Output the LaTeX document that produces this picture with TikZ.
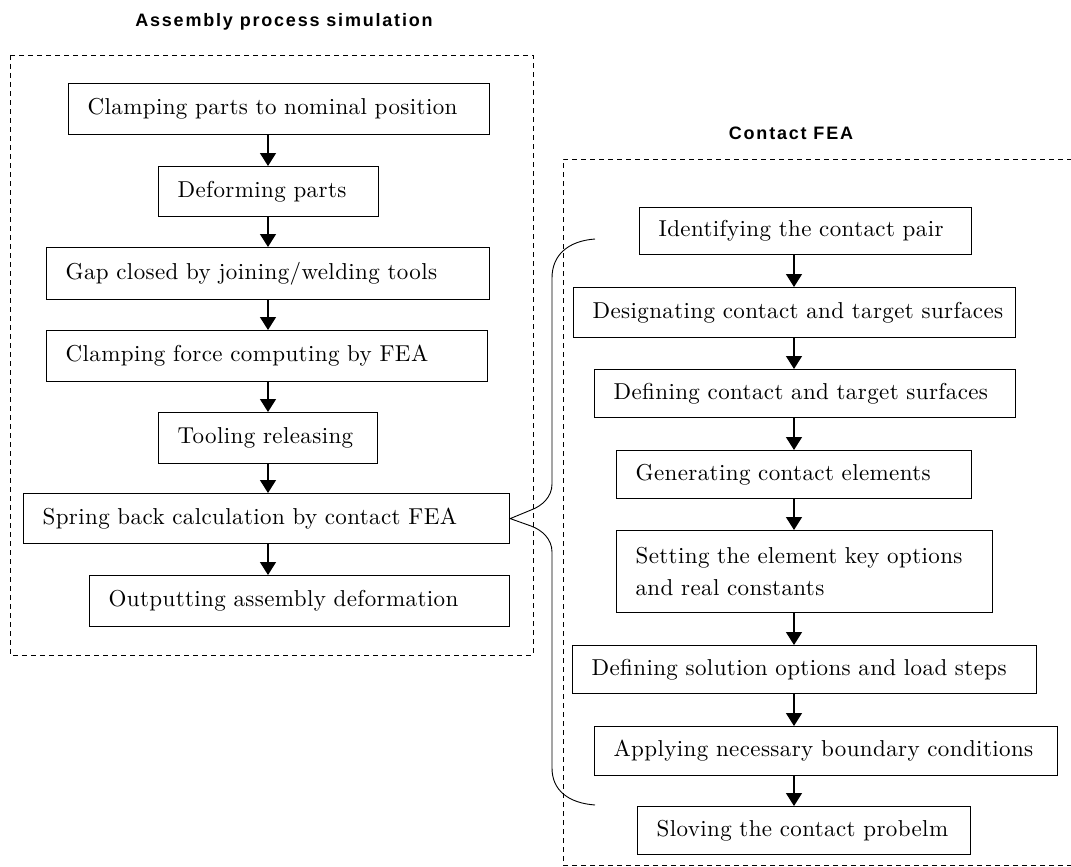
\documentclass[tikz,border=0pt]{standalone}
\usepackage{fontspec}
\newfontfamily\titlefont[LetterSpace=10]{Liberation Sans}
\newfontfamily\boxfont{lmroman10-regular}[Extension=.otf,LetterSpace=1.7]
\usetikzlibrary{arrows.meta}

\begin{document}
\begin{tikzpicture}[x=1pt,y=-1pt,
  blk/.style={draw,line width=1.2pt,anchor=north west,align=left,inner xsep=19pt,inner ysep=0pt,
    font=\boxfont\fontsize{23}{32}\selectfont},
  proc/.style={blk,execute at begin node=\hbox\bgroup,execute at end node=\egroup},
  flow/.style={line width=1.4pt,-{Triangle[width=16pt,length=13pt]}},
  group/.style={dash pattern=on 5pt off 4pt,line width=0.9pt},
  heading/.style={font=\titlefont\bfseries\fontsize{18}{21}\selectfont}]
\useasboundingbox (0,0) rectangle (1071,867);

% the two dashed groups and their headings
\draw[group] (10,55) rectangle (533,655);
\draw[group] (1090,865) -- (563,865) -- (563,159) -- (1090,159);
\node[heading] (asmtitle) at (284,22) {Assembly process simulation};
\node[heading] (featitle) at (791,133) {Contact FEA};

% assembly steps
\node[proc,text width=383pt,minimum height=51pt] (clamp) at (68,83) {Clamping parts to nominal position};
\node[proc,text width=182pt,minimum height=50pt] (deform) at (158,166) {Deforming parts};
\node[proc,text width=405pt,minimum height=52pt] (gap) at (46,247) {Gap closed by joining/welding tools};
\node[proc,text width=403pt,minimum height=51pt] (force) at (46,330) {Clamping force computing by FEA};
\node[proc,text width=181pt,minimum height=51pt] (release) at (158,412) {Tooling releasing};
\node[proc,text width=448pt,minimum height=50pt] (spring) at (23,493) {Spring back calculation by contact FEA};
\node[proc,text width=382pt,minimum height=51pt] (output) at (89,575) {Outputting assembly deformation};
\foreach \a/\b in {clamp/deform,deform/gap,gap/force,force/release,release/spring,spring/output}
  \draw[flow] (268,0 |- \a.south) -- (268,0 |- \b.north);

% contact analysis steps
\node[proc,text width=294pt,minimum height=47pt] (pair) at (639,207) {Identifying the contact pair};
\node[proc,text width=404pt,minimum height=50pt] (desig) at (573,287) {Designating contact and target surfaces};
\node[proc,text width=383pt,minimum height=48pt] (define) at (594,369) {Defining contact and target surfaces};
\node[proc,text width=317pt,minimum height=48pt] (gen) at (616,450) {Generating contact elements};
\node[blk,text width=338pt,minimum height=82pt] (keyopt) at (616,530) {Setting the element key options\\and real constants};
\node[proc,text width=426pt,minimum height=48pt] (solopt) at (572,645) {Defining solution options and load steps};
\node[proc,text width=425pt,minimum height=49pt] (bound) at (594,726) {Applying necessary boundary conditions};
\node[proc,text width=295pt,minimum height=48pt] (solve) at (637,806) {Sloving the contact probelm};
\foreach \a/\b in {pair/desig,desig/define,define/gen,gen/keyopt,keyopt/solopt,solopt/bound,bound/solve}
  \draw[flow] (794,0 |- \a.south) -- (794,0 |- \b.north);

% brace from the contact steps back to the spring back box
\coordinate (bt) at (595,239);
\coordinate (bb) at (595,805);
\draw[line width=0.9pt] (bt) .. controls (568,241) and (552,255) .. (552,278) -- (552,484)
  .. controls (552,497) and (542,506) .. (531,510) -- (spring.east) -- (531,526)
  .. controls (542,530) and (552,539) .. (552,552) -- (552,768)
  .. controls (552,790) and (568,803) .. (bb);
\end{tikzpicture}
\end{document}
